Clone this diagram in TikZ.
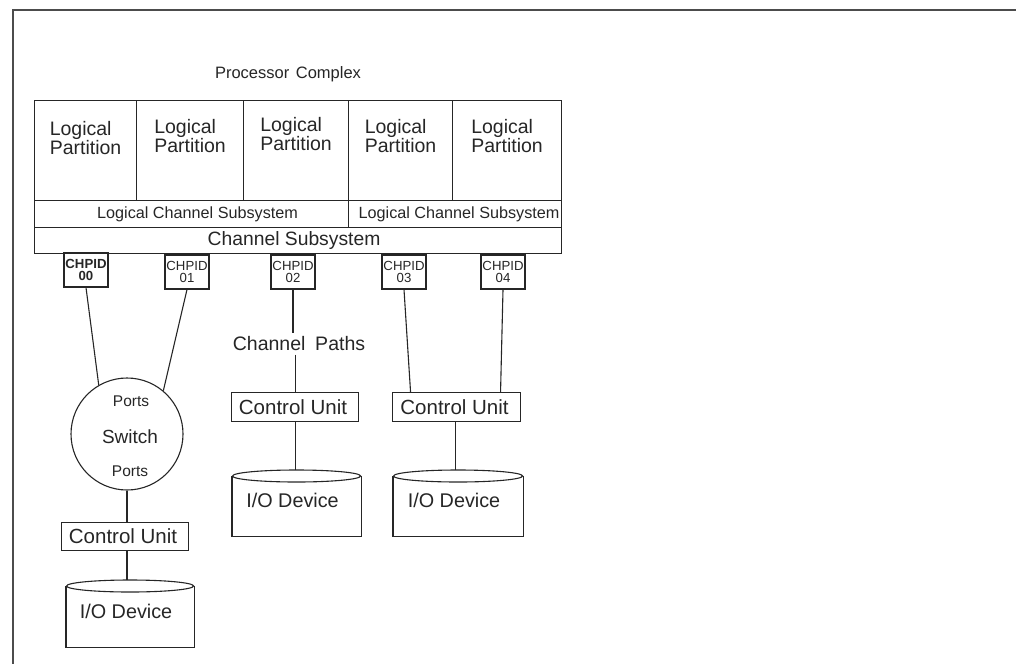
\documentclass[tikz,border=0pt]{standalone}
\usepackage{fontspec}
\setmainfont{Liberation Sans}
\begin{document}
\begin{tikzpicture}[x=1pt,y=-1pt, line width=1.1pt, color=black!85,
  box/.style={draw, rectangle, inner sep=0pt, anchor=north west},
  txt/.style={inner sep=0pt},
  fpart/.style={font=\fontsize{19.5}{17}\selectfont},
  flcs/.style={font=\fontsize{16.2}{16}\selectfont},
  fcss/.style={font=\fontsize{19.3}{18}\selectfont},
  fchp/.style={font=\fontsize{13.2}{12}\selectfont},
  fcu/.style={font=\fontsize{20.5}{19}\selectfont},
  fio/.style={font=\fontsize{19.8}{19}\selectfont},
  chp/.style={draw, rectangle, inner sep=0pt, minimum width=44pt, minimum height=34pt, align=center, fchp},
  frame/.style={line width=1.4pt, black!70}]
\useasboundingbox (0,0) rectangle (1016,664);
% frame
\coordinate (ftr) at (1016,10);
\coordinate (ftl) at (13,10);
\coordinate (fbl) at (13,664);
\draw[frame] (ftr) -- (ftl) -- (fbl);
% title
\node[txt, font=\fontsize{16.5}{16}\selectfont] (title) at (288,74) {Processor\hspace{0.4em}Complex};
% partitions
\node[box, minimum width=102pt, minimum height=100pt] (lp1) at (34,100) {};
\node[box, minimum width=107pt, minimum height=100pt] (lp2) at (136,100) {};
\node[box, minimum width=105pt, minimum height=100pt] (lp3) at (243,100) {};
\node[box, minimum width=104pt, minimum height=100pt] (lp4) at (348,100) {};
\node[box, minimum width=109pt, minimum height=100pt] (lp5) at (452,100) {};
\node[txt, fpart, align=left, anchor=north] (lp1t) at ([yshift=-21pt]lp1.north) {Logical\\Partition};
\node[txt, fpart, align=left, anchor=north] (lp2t) at ([yshift=-19pt]lp2.north) {Logical\\Partition};
\node[txt, fpart, align=left, anchor=north] (lp3t) at ([yshift=-17pt]lp3.north) {Logical\\Partition};
\node[txt, fpart, align=left, anchor=north] (lp4t) at ([yshift=-19pt]lp4.north) {Logical\\Partition};
\node[txt, fpart, align=left, anchor=north] (lp5t) at ([yshift=-19pt]lp5.north) {Logical\\Partition};
% logical channel subsystems
\node[box, minimum width=314pt, minimum height=27pt] (lcs1) at (34,200) {};
\node[box, minimum width=213pt, minimum height=27pt] (lcs2) at (348,200) {};
\node[txt, flcs] (lcs1t) at ([xshift=6pt]lcs1.center) {Logical Channel Subsystem};
\node[txt, flcs] (lcs2t) at ([xshift=4pt]lcs2.center) {Logical Channel Subsystem};
% channel subsystem
\node[box, minimum width=527pt, minimum height=26pt] (css) at (34,227) {};
\node[txt, fcss] (csst) at ([xshift=-4pt]css.center) {Channel Subsystem};
% CHPIDs
\node[chp] (ch0) at (86,270) {\bfseries CHPID\\\bfseries 00};
\node[chp] (ch1) at (187,272) {CHPID\\01};
\node[chp] (ch2) at (293,272) {CHPID\\02};
\node[chp] (ch3) at (404,272) {CHPID\\03};
\node[chp] (ch4) at (503,272) {CHPID\\04};
% switch
\node[draw, circle, minimum size=112pt, inner sep=0pt] (sw) at (127,434) {};
\node[txt, font=\fontsize{15.5}{15}\selectfont] (swp1) at (131,401) {Ports};
\node[txt, font=\fontsize{19}{18}\selectfont] (swt) at (130,437) {Switch};
\node[txt, font=\fontsize{15.5}{15}\selectfont] (swp2) at (130,471) {Ports};
% channel paths label
\node[txt, inner sep=3pt, font=\fontsize{19.5}{18}\selectfont] (cp) at (299,344) {Channel\hspace{0.5em}Paths};
% control units
\node[box, minimum width=127pt, minimum height=29pt] (cu1) at (231,392) {};
\node[box, minimum width=128pt, minimum height=29pt] (cu2) at (392,392) {};
\node[box, minimum width=127pt, minimum height=28pt] (cu3) at (61,522) {};
\node[txt, fcu] (cu1t) at ([xshift=-2pt]cu1.center) {Control Unit};
\node[txt, fcu] (cu2t) at ([xshift=-2pt]cu2.center) {Control Unit};
\node[txt, fcu] (cu3t) at ([xshift=-2pt]cu3.center) {Control Unit};
% I/O devices (cylinders with flat bottom)
\node[rectangle, inner sep=0pt, anchor=north west, minimum width=128pt, minimum height=65pt] (io1) at (232,470) {};
\node[rectangle, inner sep=0pt, anchor=north west, minimum width=129pt, minimum height=65pt] (io2) at (393,470) {};
\node[rectangle, inner sep=0pt, anchor=north west, minimum width=127pt, minimum height=66pt] (io3) at (66,580) {};
\foreach \n/\r in {io1/64, io2/64.5, io3/63.5}{
  \draw ([yshift=-6pt]\n.north west) -- (\n.south west) -- (\n.south east) -- ([yshift=-6pt]\n.north east);
  \draw ([yshift=-6pt]\n.north) ellipse [x radius=\r pt, y radius=6pt];
}
\node[txt, fio] (io1t) at ([xshift=-4pt, yshift=-30pt]io1.north) {I/O Device};
\node[txt, fio] (io2t) at ([xshift=-4pt, yshift=-30pt]io2.north) {I/O Device};
\node[txt, fio] (io3t) at ([xshift=-4pt, yshift=-31pt]io3.north) {I/O Device};
% connectors
\draw (ch0.south) -- (sw.120);
\draw (ch1.south) -- (sw.50);
\draw (ch2.south) -- (ch2.south |- cp.north);
\draw (cu1.north |- cp.south) -- (cu1.north);
\draw (ch3.south) -- ([xshift=-46pt]cu2.north);
\draw (ch4.south) -- ([xshift=44pt]cu2.north);
\draw (sw.south) -- (sw.south |- cu3.north);
\draw (cu1.south) -- (cu1.south |- io1.north);
\draw ([xshift=-1pt]cu2.south) -- ([xshift=-1pt]cu2.south |- io2.north);
\draw (cu3.south -| sw.south) -- (sw.south |- io3.north);
\end{tikzpicture}
\end{document}
